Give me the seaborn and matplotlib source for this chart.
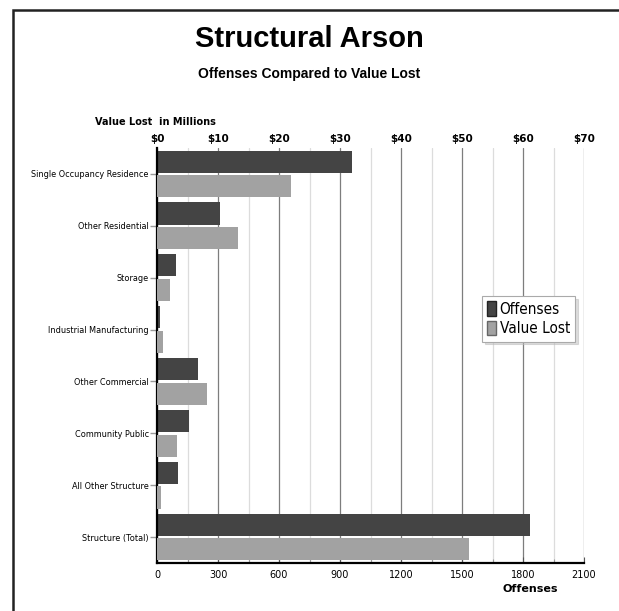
import matplotlib
matplotlib.use('Agg')
import matplotlib.pyplot as plt
import seaborn as sns
import pandas as pd
from matplotlib.patches import Patch, Rectangle
from matplotlib.ticker import MultipleLocator
from matplotlib.font_manager import FontProperties

categories = ['Single Occupancy Residence', 'Other Residential', 'Storage',
              'Industrial Manufacturing', 'Other Commercial', 'Community Public',
              'All Other Structure', 'Structure (Total)']
offenses = [960, 310, 95, 16, 203, 159, 102, 1835]
value_lost = [22.0, 13.2, 2.1, 1.0, 8.2, 3.3, 0.7, 51.1]
series = ['Offenses', 'Value Lost']
offense_ticks = [0, 300, 600, 900, 1200, 1500, 1800, 2100]
value_ticks = [0, 10, 20, 30, 40, 50, 60, 70]
value_tick_labels = ['$0', '$10', '$20', '$30', '$40', '$50', '$60', '$70']

sns.set_theme(style='white')
plt.rcParams['font.family'] = ['DejaVu Sans']
plt.rcParams['text.color'] = 'black'
plt.rcParams['xtick.color'] = 'black'
plt.rcParams['ytick.color'] = 'black'
plt.rcParams['axes.labelcolor'] = 'black'

DARK = '#444444'
LIGHT = '#a2a2a2'
palette = {'Offenses': DARK, 'Value Lost': LIGHT}

fig = plt.figure(figsize=(6.19, 6.11), dpi=100)
ax = fig.add_axes([157/619, 1-563/611, (584-157)/619, (563-148)/611])
ax2 = ax.twiny()

df_off = pd.DataFrame({'category': categories, 'value': offenses, 'series': 'Offenses'})
df_val = pd.DataFrame({'category': categories, 'value': value_lost, 'series': 'Value Lost'})

sns.barplot(data=df_off, y='category', x='value', hue='series', hue_order=series,
            palette=palette, order=categories, orient='h', width=0.95, gap=0.1,
            dodge=True, ax=ax, legend=False, linewidth=0, saturation=1, errorbar=None)
sns.barplot(data=df_val, y='category', x='value', hue='series', hue_order=series,
            palette=palette, order=categories, orient='h', width=0.95, gap=0.1,
            dodge=True, ax=ax2, legend=False, linewidth=0, saturation=1, errorbar=None)

ax.set_xlim(0, 2100)
ax2.set_xlim(0, 70)
ax.set_ylim(7.5, -0.5)
ax.set_xlabel('')
ax.set_ylabel('')
ax2.set_xlabel('')
ax2.set_ylabel('')

# grid
ax.set_xticks(offense_ticks)
ax.set_xticklabels([str(t) for t in offense_ticks])
ax.xaxis.set_minor_locator(MultipleLocator(150))
ax.grid(False)
ax.grid(which='major', axis='x', color='#7d7d7d', lw=0.9)
ax.grid(which='minor', axis='x', color='#dcdcdc', lw=0.9)
ax.set_axisbelow(True)

ax.tick_params(axis='x', which='major', bottom=True, direction='in', length=4,
               width=0.8, color='#555555', labelsize=7, pad=5, labelcolor='black')
ax.tick_params(axis='x', which='minor', bottom=True, direction='in', length=3,
               width=0.8, color='#999999')
ax.tick_params(axis='y', left=True, length=5, width=1, color='#999999',
               labelsize=5.9, pad=1, labelcolor='black')

ax2.set_xticks(value_ticks)
ax2.set_xticklabels(value_tick_labels, fontweight='bold', fontsize=7.5, color='black')
ax2.tick_params(axis='x', top=True, length=0, pad=3)
ax2.grid(False)

for s in ['top', 'right']:
    ax.spines[s].set_visible(False)
for s in ['left', 'bottom']:
    ax.spines[s].set_color('black')
    ax.spines[s].set_linewidth(1.6)
for s in ax2.spines.values():
    s.set_visible(False)

fig.text(155/619, 1-122/611, 'Value Lost  in Millions', ha='center', va='center',
         fontsize=7.0, fontweight='bold')
fig.text(530/619, 1-589/611, 'Offenses', ha='center', va='center',
         fontsize=8, fontweight='bold')

fig.text(309/619, 1-39/611, 'Structural Arson', ha='center', va='center',
         fontsize=21, fontweight='bold', family=['Liberation Sans', 'DejaVu Sans'])
fig.text(309/619, 1-74/611, 'Offenses Compared to Value Lost', ha='center', va='center',
         fontsize=10, fontweight='bold', family=['Liberation Sans', 'DejaVu Sans'])

handles = [Patch(facecolor=DARK, edgecolor='#222222', label='Offenses'),
           Patch(facecolor=LIGHT, edgecolor='#666666', label='Value Lost')]
leg = fig.legend(handles=handles, loc='upper left', bbox_to_anchor=(482/619, 1-296/611),
                 frameon=True, fancybox=False, edgecolor='#aaaaaa',
                 shadow={'color': '#bbbbbb', 'ox': 2, 'oy': -2},
                 prop=FontProperties(family='DejaVu Sans', stretch='condensed', size=11),
                 handlelength=0.55, handleheight=1.1, handletextpad=0.25,
                 borderpad=0.35, labelspacing=0.25, borderaxespad=0)
leg.get_frame().set_linewidth(0.8)

fig.patches.append(Rectangle((13/619, -0.1), 1.2, 1.1 - 10/611, transform=fig.transFigure,
                             fill=False, edgecolor='#222222', lw=1.8, clip_on=False))

fig.savefig('out.png', dpi=100)
